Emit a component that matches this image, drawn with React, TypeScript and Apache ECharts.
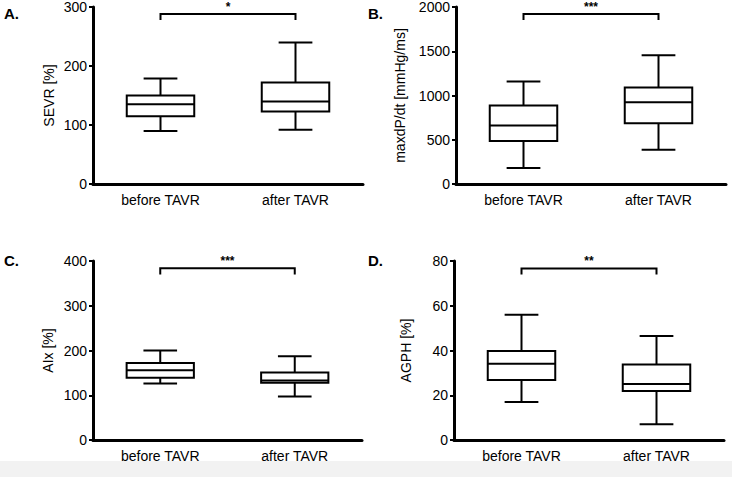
import React, { useEffect, useRef } from 'react';
import * as echarts from 'echarts';

const categories = ['before TAVR', 'after TAVR'];
const panelLetters = ['A.', 'B.', 'C.', 'D.'];
const yNames = ['SEVR [%]', 'maxdP/dt [mmHg/ms]', 'AIx [%]', 'AGPH [%]'];
const yMax = [300, 2000, 400, 80];
const yInterval = [100, 500, 100, 20];
// each row: [min, Q1, median, Q3, max]
const sevr = [[90, 115, 135, 150, 179], [92, 123, 140, 172, 240]];
const maxdpdt = [[180, 485, 660, 888, 1157], [388, 687, 925, 1090, 1455]];
const aix = [[126, 139, 156, 172, 200], [97, 128, 133, 151, 187]];
const agph = [[17, 26.8, 34.1, 39.8, 56], [7, 21.9, 25, 33.7, 46.5]];
const panelData = [sevr, maxdpdt, aix, agph];
const sigLabels = ['*', '***', '***', '**'];
const sigTop = [288, 1922, 384, 76.7];
const sigDrop = [278, 1854, 370, 74];

const FONT = '"Liberation Sans", Arial, Helvetica, sans-serif';

const grids = [
  { left: 93, top: 5, width: 270, height: 179 },
  { left: 456, top: 5, width: 270, height: 179 },
  { left: 93, top: 261, width: 269, height: 179 },
  { left: 454, top: 261, width: 270, height: 179 },
];
const nameGaps = [37, 49, 38, 41];
const letterPos = [[4, 13], [368, 13], [4, 260], [368, 260]];

export default function App() {
  const ref = useRef<HTMLDivElement>(null);
  useEffect(() => {
    if (!ref.current) return;
    const chart = echarts.init(ref.current, undefined, { renderer: 'svg' });

    const xAxes = grids.map((_, i) => ({
      type: 'category',
      gridIndex: i,
      data: categories,
      boundaryGap: true,
      axisLine: { lineStyle: { color: '#000', width: 3 } },
      axisTick: { alignWithLabel: true, length: 5, lineStyle: { color: '#000', width: 2 } },
      axisLabel: { color: '#000', fontSize: 14, fontFamily: FONT, margin: 9 },
      splitLine: { show: false },
    }));
    const yAxes = grids.map((_, i) => ({
      type: 'value',
      gridIndex: i,
      min: 0,
      max: yMax[i],
      interval: yInterval[i],
      name: yNames[i],
      nameLocation: 'middle',
      nameRotate: 90,
      nameGap: nameGaps[i],
      nameTextStyle: { color: '#000', fontSize: 14, fontFamily: FONT },
      axisLine: { show: true, lineStyle: { color: '#000', width: 3 } },
      axisTick: { show: true, length: 4, lineStyle: { color: '#000', width: 2 } },
      axisLabel: {
        color: '#000',
        fontSize: 14,
        fontFamily: FONT,
        margin: 6,
        formatter: (v: number) => String(v),
      },
      splitLine: { show: false },
    }));

    const boxSeries = panelData.map((rows, i) => ({
      type: 'custom',
      xAxisIndex: i,
      yAxisIndex: i,
      encode: { x: 0, y: [1, 2, 3, 4, 5] },
      data: rows.map((r, k) => [k, ...r]),
      renderItem: (params: any, api: any) => {
        const c = api.value(0);
        const pMin = api.coord([c, api.value(1)]);
        const pQ1 = api.coord([c, api.value(2)]);
        const pMed = api.coord([c, api.value(3)]);
        const pQ3 = api.coord([c, api.value(4)]);
        const pMax = api.coord([c, api.value(5)]);
        const band = api.size([1, 0])[0];
        const bw = band * 0.5;
        const cw = band * 0.25;
        const cx = pMed[0];
        const st = { stroke: '#000', lineWidth: 2, fill: 'none' };
        return {
          type: 'group',
          children: [
            { type: 'line', shape: { x1: cx, y1: pMax[1], x2: cx, y2: pQ3[1] }, style: st },
            { type: 'line', shape: { x1: cx, y1: pQ1[1], x2: cx, y2: pMin[1] }, style: st },
            { type: 'line', shape: { x1: cx - cw / 2, y1: pMax[1], x2: cx + cw / 2, y2: pMax[1] }, style: st },
            { type: 'line', shape: { x1: cx - cw / 2, y1: pMin[1], x2: cx + cw / 2, y2: pMin[1] }, style: st },
            {
              type: 'rect',
              shape: { x: cx - bw / 2, y: pQ3[1], width: bw, height: pQ1[1] - pQ3[1] },
              style: { stroke: '#000', lineWidth: 2, fill: '#fff' },
            },
            { type: 'line', shape: { x1: cx - bw / 2, y1: pMed[1], x2: cx + bw / 2, y2: pMed[1] }, style: st },
          ],
        };
      },
    }));

    const sigSeries = grids.map((_, i) => ({
      type: 'custom',
      xAxisIndex: i,
      yAxisIndex: i,
      encode: { x: [0, 1], y: [2, 3] },
      data: [[0, 1, sigDrop[i], sigTop[i]]],
      renderItem: (params: any, api: any) => {
        const a = api.coord([api.value(0), api.value(2)]);
        const b = api.coord([api.value(0), api.value(3)]);
        const c = api.coord([api.value(1), api.value(3)]);
        const d = api.coord([api.value(1), api.value(2)]);
        return {
          type: 'group',
          children: [
            {
              type: 'polyline',
              shape: { points: [a, b, c, d] },
              style: { stroke: '#000', lineWidth: 2, fill: 'none' },
            },
            {
              type: 'text',
              x: (b[0] + c[0]) / 2,
              y: b[1] - 1,
              style: {
                text: sigLabels[i],
                fill: '#000',
                font: `bold 12px ${FONT}`,
                textAlign: 'center',
                textVerticalAlign: 'bottom',
              },
            },
          ],
        };
      },
    }));

    const graphic: any[] = [
      { type: 'rect', left: 0, top: 461, shape: { width: 732, height: 16 }, style: { fill: '#f2f2f2' }, z: -10 },
      ...panelLetters.map((t, i) => ({
        type: 'text',
        x: letterPos[i][0],
        y: letterPos[i][1],
        style: {
          text: t,
          fill: '#000',
          font: `bold 15px ${FONT}`,
          textAlign: 'left',
          textVerticalAlign: 'middle',
        },
      })),
    ];

    chart.setOption({
      animation: false,
      backgroundColor: '#fff',
      grid: grids.map((g) => ({ ...g, containLabel: false })),
      xAxis: xAxes,
      yAxis: yAxes,
      series: [...boxSeries, ...sigSeries],
      graphic,
    } as any);

    return () => chart.dispose();
  }, []);

  return (
    <div
      ref={ref}
      style={{ position: 'fixed', left: 0, top: 0, width: 732, height: 477 }}
    />
  );
}
